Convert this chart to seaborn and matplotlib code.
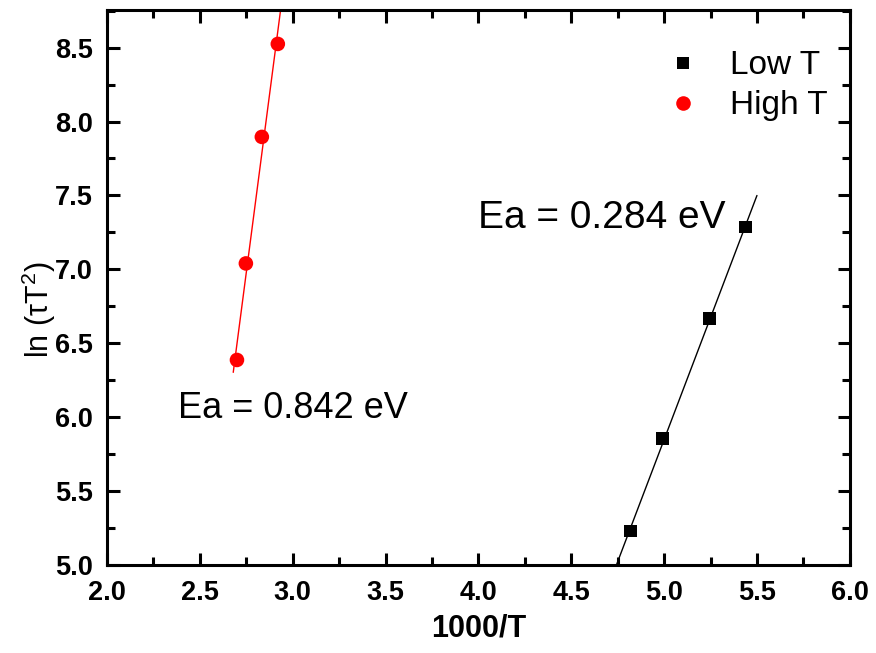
import numpy as np
import pandas as pd
import seaborn as sns
import matplotlib.pyplot as plt
from matplotlib.ticker import MultipleLocator

# data
low_x = [4.82, 4.993, 5.246, 5.44]
low_y = [5.23, 5.853, 6.67, 7.287]
high_x = [2.70, 2.748, 2.834, 2.92]
high_y = [6.387, 7.04, 7.896, 8.525]
low_fit_range = [4.70, 5.50]
high_fit_range = [2.68, 2.95]
ea_labels = ["Ea = 0.284 eV", "Ea = 0.842 eV"]

sns.set_style("ticks", {"axes.edgecolor": "black", "text.color": "black",
                        "xtick.color": "black", "ytick.color": "black",
                        "axes.labelcolor": "black"})
plt.rcParams['font.family'] = ['Liberation Sans', 'DejaVu Sans']
plt.rcParams['mathtext.fontset'] = 'custom'
plt.rcParams['mathtext.rm'] = 'Liberation Sans'
plt.rcParams['mathtext.it'] = 'Liberation Sans:italic'

df = pd.concat([
    pd.DataFrame({"x": low_x, "y": low_y, "set": "Low T"}),
    pd.DataFrame({"x": high_x, "y": high_y, "set": "High T"}),
])

fig = plt.figure(figsize=(8.76, 6.53), dpi=100)
ax = fig.add_axes([0.1221, 0.1348, 0.848, 0.850])

# linear fits drawn over the visible range
for xs, ys, rng, col in [(low_x, low_y, low_fit_range, "black"),
                         (high_x, high_y, high_fit_range, "red")]:
    k, b = np.polyfit(xs, ys, 1)
    fx = np.array(rng)
    ax.plot(fx, k * fx + b, color=col, lw=1.0, zorder=1)

sns.scatterplot(data=df, x="x", y="y", hue="set", style="set", size="set",
                palette={"Low T": "black", "High T": "red"},
                markers={"Low T": "s", "High T": "o"},
                sizes={"Low T": 85, "High T": 110},
                linewidth=0, ax=ax, zorder=3, legend=False)

ax.set_xlim(2.0, 6.0)
ax.set_ylim(5.0, 8.755)
ax.xaxis.set_major_locator(MultipleLocator(0.5))
ax.xaxis.set_minor_locator(MultipleLocator(0.25))
ax.yaxis.set_major_locator(MultipleLocator(0.5))
ax.yaxis.set_minor_locator(MultipleLocator(0.25))
ax.tick_params(which="both", direction="in", top=True, right=True, width=2.2)
ax.tick_params(which="major", length=9, labelsize=19.5)
ax.tick_params(axis="x", which="major", pad=10.5)
ax.tick_params(axis="y", which="major", pad=10)
ax.tick_params(which="minor", length=6)
for lab in ax.get_xticklabels() + ax.get_yticklabels():
    lab.set_fontweight("bold")
for sp in ax.spines.values():
    sp.set_linewidth(2.2)

ax.set_xlabel("1000/T", fontsize=22, fontweight="bold", labelpad=6)
ax.set_ylabel(r"ln ($\mathrm{\tau}$T$^{2}$)", fontsize=22)
ax.yaxis.set_label_coords(-0.066, 0.46)

ax.text(3.997, 7.35, ea_labels[0], fontsize=28, va="center", ha="left")
ax.text(2.38, 6.06, ea_labels[1], fontsize=26, va="center", ha="left")

handles = [
    plt.Line2D([], [], ls="", marker="s", color="black", markersize=9,
               markeredgewidth=0, label="Low T"),
    plt.Line2D([], [], ls="", marker="o", color="red", markersize=10.5,
               markeredgewidth=0, label="High T"),
]
ax.legend(handles=handles, loc="upper left", bbox_to_anchor=(0.735, 0.951),
          frameon=False, fontsize=24, handlelength=1.0, handletextpad=0.92,
          labelspacing=0.27, borderaxespad=0)

fig.savefig("out.png", dpi=100)
